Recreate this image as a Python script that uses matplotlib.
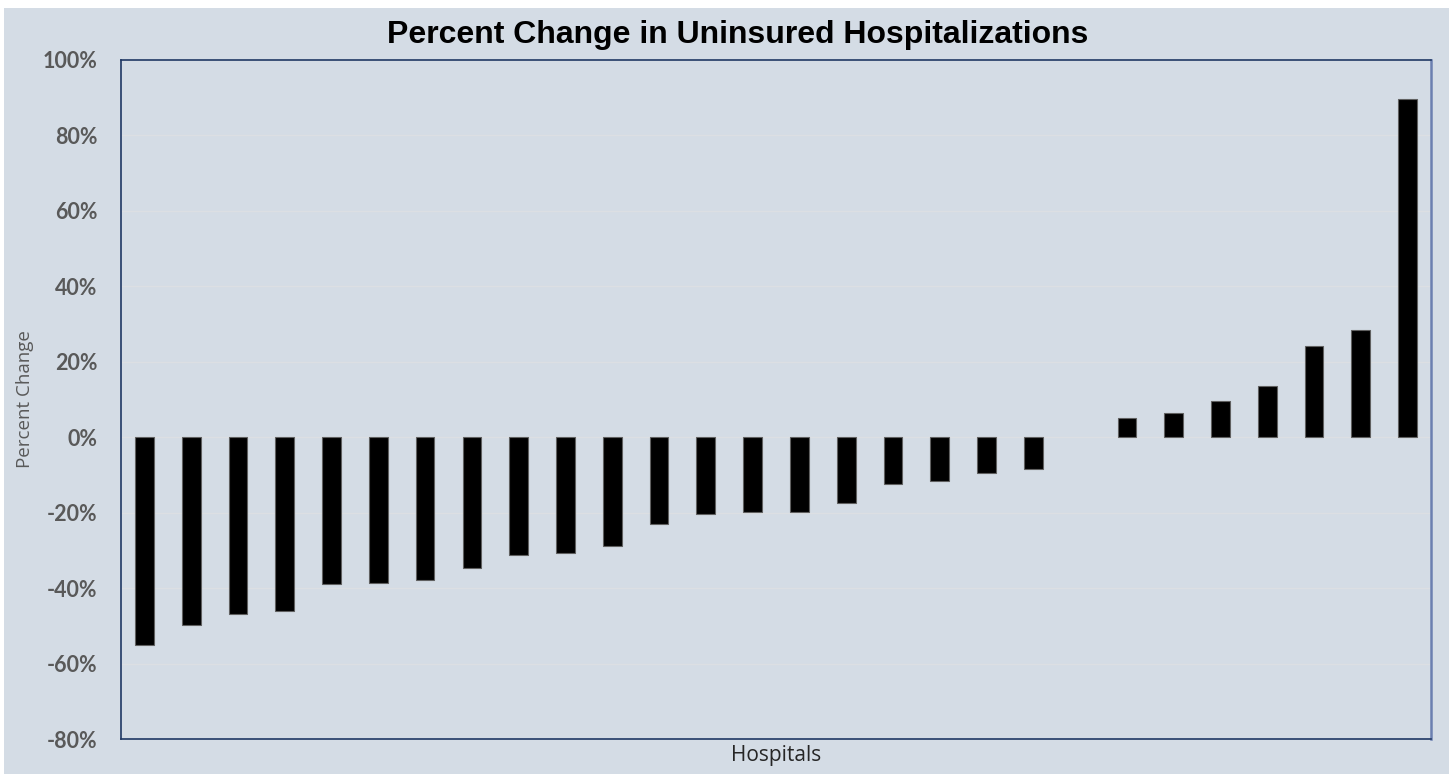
import matplotlib.pyplot as plt
import numpy as np
from matplotlib.patches import Rectangle
from matplotlib.ticker import FuncFormatter

# percent change per hospital, sorted low to high (one hospital at 0)
hospitals = [f"H{i + 1}" for i in range(28)]
pct_change = [
    -55.0, -49.8, -46.9, -46.2, -38.8, -38.6, -37.9, -34.7, -31.1, -30.7,
    -28.8, -23.1, -20.4, -19.8, -19.8, -17.4, -12.4, -11.7, -9.5, -8.4,
    0.0, 5.0, 6.3, 9.6, 13.5, 24.2, 28.5, 89.6,
]
y_ticks = [-80, -60, -40, -20, 0, 20, 40, 60, 80, 100]

BG = "#D4DCE5"
FRAME = "#1F3864"


def main() -> None:
    fig = plt.figure(figsize=(14.49, 7.74), dpi=100, facecolor="white")
    fig.patches.append(
        Rectangle((4 / 1449, 0), 1 - 4 / 1449, 1 - 8 / 774,
                  transform=fig.transFigure, facecolor=BG, edgecolor="none", zorder=-10)
    )
    ax = fig.add_axes([121 / 1449, 1 - 739 / 774, 1310 / 1449, 679 / 774])
    ax.set_facecolor(BG)

    x = np.arange(len(hospitals))
    # no outline on empty bars, otherwise a stray line shows at 0
    edge_w = [0.8 if v != 0 else 0 for v in pct_change]
    ax.bar(x, pct_change, width=0.4, color="black", edgecolor="#606060",
           linewidth=edge_w, zorder=3)

    ax.set_xlim(-0.5, len(hospitals) - 0.5)
    ax.set_ylim(-80, 100)
    ax.set_yticks(y_ticks)
    ax.yaxis.set_major_formatter(FuncFormatter(lambda v, _: f"{v:.0f}%"))
    ax.set_xticks([])
    ax.grid(axis="y", color="#DCDFE3", linewidth=0.9, zorder=1)
    ax.tick_params(axis="y", length=0, pad=17, labelsize=15.5, labelcolor="#595959")
    for lab in ax.get_yticklabels():
        lab.set_fontfamily("Lato")
        lab.set_fontweight("bold")

    for side in ("left", "top", "bottom"):
        ax.spines[side].set_color(FRAME)
        ax.spines[side].set_linewidth(1.2)
    ax.spines["right"].set_color("#6B7FB0")
    ax.spines["right"].set_linewidth(1.8)

    ax.set_ylabel("Percent Change", fontsize=13.5, color="#595959",
                  family="Open Sans", labelpad=6)
    ax.set_xlabel("Hospitals", fontsize=15, color="#262626",
                  family="Open Sans", labelpad=4)

    fig.text(738 / 1449, 1 - 35 / 774, "Percent Change in Uninsured Hospitalizations",
             ha="center", va="center", fontsize=23, fontweight="bold",
             family="Liberation Sans")

    fig.savefig("out.png", dpi=100, facecolor=fig.get_facecolor())
    plt.close(fig)


if __name__ == "__main__":
    main()
